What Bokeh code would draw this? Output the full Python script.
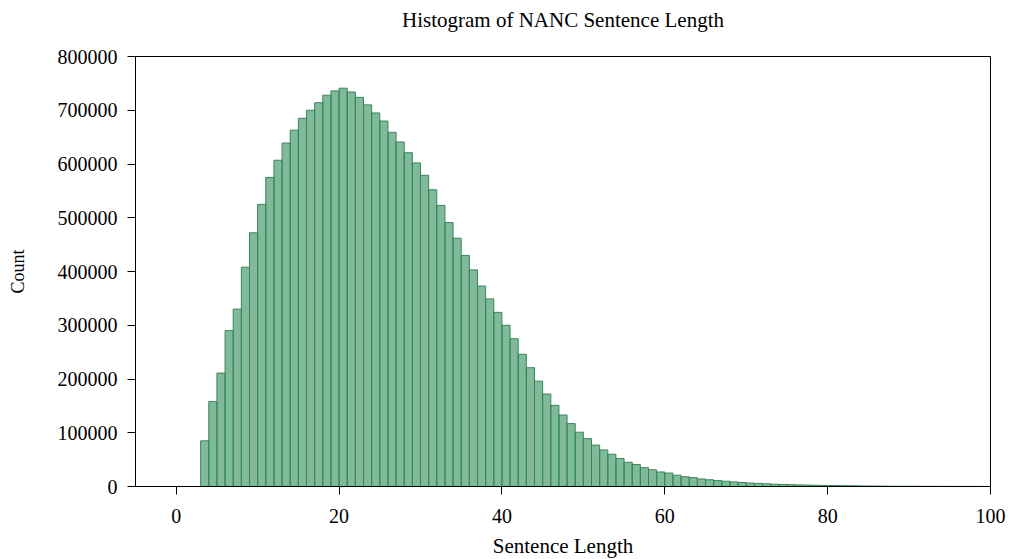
from bokeh.plotting import figure
from bokeh.models import Range1d, FixedTicker, BasicTickFormatter, Title
from bokeh.embed import file_html
from bokeh.resources import INLINE

# Data: sentence length bins (left edges) and counts
lengths = list(range(3, 100))
counts = [
    85000, 158000, 211000, 290000, 330000, 408000, 472000, 525000, 575000, 607000,
    639000, 663000, 685000, 700000, 714000, 728000, 736000, 741000, 734000, 724000,
    710000, 695000, 680000, 659000, 641000, 621000, 602000, 579000, 552000, 523000,
    491000, 462000, 430000, 403000, 373000, 349000, 324000, 300000, 275000, 246000,
    221000, 196000, 172000, 151000, 133000, 117000, 101000, 89000, 77000, 68000,
    60000, 52000, 45000, 41000, 35000, 31000, 27000, 25000, 21000, 18000,
    16500, 14000, 12500, 11000, 9800, 8500, 7500, 6500, 5800, 5000,
    4300, 3800, 3400, 3000, 2600, 2300, 2000, 1800, 1600, 1400,
    1200, 1000, 900, 700, 600, 500, 450, 400, 350, 300,
    250, 220, 200, 180, 150, 130, 110,
]
x_ticks = [0, 20, 40, 60, 80, 100]
y_ticks = [0, 100000, 200000, 300000, 400000, 500000, 600000, 700000, 800000]

FONT = "Liberation Serif"

p = figure(width=1010, height=561, output_backend="svg", toolbar_location=None,
           x_range=Range1d(-5, 100), y_range=Range1d(0, 800000),
           title="Histogram of NANC Sentence Length",
           min_border_left=135, min_border_right=20, min_border_top=0,
           min_border_bottom=75)

# spacer between the frame and the title
p.add_layout(Title(text=" ", text_font=FONT, text_font_size="10px", standoff=7), "above")

p.quad(left=lengths, right=[v + 1 for v in lengths], bottom=0, top=counts,
       fill_color="seagreen", fill_alpha=0.6, line_color="seagreen", line_width=1)

p.title.text_font = FONT
p.title.text_font_size = "21px"
p.title.text_font_style = "normal"
p.title.align = "center"
p.title.text_color = "black"
p.title.standoff = 10

p.xgrid.visible = False
p.ygrid.visible = False
p.outline_line_color = "black"
p.outline_line_width = 1
p.outline_line_alpha = 1

for ax in (p.xaxis[0], p.yaxis[0]):
    ax.axis_line_color = "black"
    ax.major_tick_line_color = "black"
    ax.minor_tick_line_color = None
    ax.major_tick_out = 8
    ax.major_tick_in = 0
    ax.major_label_text_font = FONT
    ax.major_label_text_font_size = "20px"
    ax.major_label_text_color = "black"
    ax.axis_label_text_font = FONT
    ax.axis_label_text_font_size = "21px"
    ax.axis_label_text_font_style = "normal"
    ax.axis_label_text_color = "black"

p.yaxis.axis_label_text_font_size = "18px"
p.xaxis.ticker = FixedTicker(ticks=x_ticks)
p.yaxis.ticker = FixedTicker(ticks=y_ticks)
p.yaxis.formatter = BasicTickFormatter(use_scientific=False)
p.xaxis.axis_label = "Sentence Length"
p.yaxis.axis_label = "Count"
p.xaxis.major_label_standoff = 14
p.yaxis.major_label_standoff = 10
p.xaxis.axis_label_standoff = 8
p.yaxis.axis_label_standoff = 27

open("out.html", "w").write(file_html(p, INLINE))
